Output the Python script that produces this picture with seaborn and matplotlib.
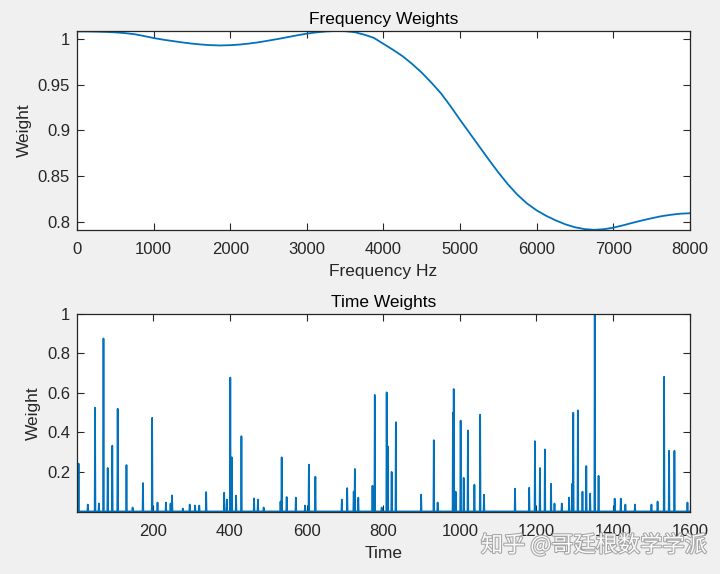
import numpy as np
import pandas as pd
import matplotlib
matplotlib.use("Agg")
import matplotlib.pyplot as plt
import matplotlib.patheffects as pe
import seaborn as sns

# ---- data: frequency weights ----
freq_hz = [0, 125, 250, 375, 500, 625, 750, 875, 1000, 1125, 1250, 1375, 1500,
           1625, 1750, 1875, 2000, 2125, 2250, 2375, 2500, 2625, 2750, 2875,
           3000, 3125, 3250, 3375, 3500, 3625, 3750, 3875, 4000, 4125, 4250,
           4375, 4500, 4625, 4750, 4875, 5000, 5125, 5250, 5375, 5500, 5625,
           5750, 5875, 6000, 6125, 6250, 6375, 6500, 6625, 6750, 6875, 7000,
           7125, 7250, 7375, 7500, 7625, 7750, 7875, 8000]
freq_weight = [1.0080, 1.0080, 1.0078, 1.0075, 1.0070, 1.0062, 1.0050, 1.0030,
               1.0008, 0.9990, 0.9975, 0.9960, 0.9947, 0.9937, 0.9930, 0.9927,
               0.9930, 0.9937, 0.9948, 0.9962, 0.9980, 0.9998, 1.0018, 1.0038,
               1.0056, 1.0070, 1.0080, 1.0085, 1.0083, 1.0072, 1.0045, 1.0010,
               0.9945, 0.9880, 0.9810, 0.9725, 0.9630, 0.9522, 0.9405, 0.9265,
               0.9115, 0.8970, 0.8825, 0.8680, 0.8540, 0.8410, 0.8295, 0.8200,
               0.8125, 0.8065, 0.8015, 0.7972, 0.7940, 0.7920, 0.7912, 0.7918,
               0.7935, 0.7960, 0.7988, 0.8014, 0.8038, 0.8060, 0.8076, 0.8088,
               0.8093]

# ---- data: time weights (spike positions and heights) ----
n_time = 1600
spike_time = [5, 29, 48, 58, 70, 81, 93, 107, 130, 146, 173, 197, 211, 233, 245,
              249, 277, 295, 309, 320, 338, 385, 392, 401, 405, 416, 430, 463,
              473, 488, 532, 535, 548, 572, 596, 606, 623, 692, 706, 723, 726,
              735, 772, 778, 796, 809, 812, 822, 833, 899, 932, 942, 982, 984,
              989, 1002, 1010, 1021, 1038, 1053, 1063, 1144, 1181, 1196, 1209,
              1222, 1238, 1247, 1266, 1285, 1293, 1296, 1308, 1320, 1330, 1340,
              1352, 1362, 1404, 1420, 1432, 1457, 1500, 1516, 1533, 1546, 1560,
              1594]
spike_height = [0.242, 0.035, 0.525, 0.04, 0.876, 0.22, 0.333, 0.52, 0.235, 0.02,
                0.144, 0.474, 0.045, 0.045, 0.04, 0.081, 0.015, 0.035, 0.03, 0.03,
                0.098, 0.095, 0.06, 0.678, 0.274, 0.08, 0.381, 0.066, 0.06, 0.02,
                0.05, 0.274, 0.073, 0.07, 0.03, 0.237, 0.176, 0.06, 0.118, 0.10,
                0.215, 0.07, 0.13, 0.59, 0.02, 0.603, 0.33, 0.20, 0.452, 0.085,
                0.361, 0.045, 0.50, 0.62, 0.10, 0.46, 0.17, 0.41, 0.135, 0.49,
                0.085, 0.115, 0.12, 0.356, 0.22, 0.314, 0.14, 0.04, 0.04, 0.07,
                0.14, 0.50, 0.512, 0.10, 0.23, 0.09, 1.0, 0.18, 0.065, 0.065,
                0.035, 0.035, 0.035, 0.05, 0.682, 0.307, 0.307, 0.045]

freq_ticks = [0, 1000, 2000, 3000, 4000, 5000, 6000, 7000, 8000]
freq_ytick = [0.8, 0.85, 0.9, 0.95, 1.0]
freq_ytick_labels = ["0.8", "0.85", "0.9", "0.95", "1"]
time_ticks = [200, 400, 600, 800, 1000, 1200, 1400, 1600]
time_ytick = [0.2, 0.4, 0.6, 0.8, 1.0]
time_ytick_labels = ["0.2", "0.4", "0.6", "0.8", "1"]

time_idx = np.arange(1, n_time + 1)
time_weight = np.zeros(n_time)
time_weight[np.array(spike_time) - 1] = spike_height

df_freq = pd.DataFrame({"Frequency Hz": freq_hz, "Weight": freq_weight})
df_time = pd.DataFrame({"Time": time_idx, "Weight": time_weight})

# ---- style ----
sns.set_style("white")
plt.rcParams["font.family"] = ["Liberation Sans", "DejaVu Sans"]
plt.rcParams["xtick.direction"] = "in"
plt.rcParams["ytick.direction"] = "in"

line_color = "#0072BD"
text_color = "#262626"

fig = plt.figure(figsize=(7.2, 5.74), dpi=100, facecolor="#f0f0f0")
ax1 = fig.add_axes([0.107, 0.599, 0.851, 0.347])
ax2 = fig.add_axes([0.107, 0.108, 0.851, 0.345])

sns.lineplot(data=df_freq, x="Frequency Hz", y="Weight", ax=ax1,
             color=line_color, linewidth=1.3, estimator=None)
sns.lineplot(data=df_time, x="Time", y="Weight", ax=ax2,
             color=line_color, linewidth=1.25, estimator=None)

ax1.set_xlim(0, 8000)
ax1.set_ylim(0.7908, 1.0085)
ax1.set_xticks(freq_ticks)
ax1.set_xticklabels([str(t) for t in freq_ticks])
ax1.set_yticks(freq_ytick)
ax1.set_yticklabels(freq_ytick_labels)
ax1.set_title("Frequency Weights", fontsize=12.5, color="black", pad=5)
ax1.set_xlabel("Frequency Hz", fontsize=12.5, color=text_color, labelpad=5)
ax1.set_ylabel("Weight", fontsize=12.5, color=text_color, labelpad=4.5)

ax2.set_xlim(1, 1600)
ax2.set_ylim(-0.003, 1.0)
ax2.set_xticks(time_ticks)
ax2.set_xticklabels([str(t) for t in time_ticks])
ax2.set_yticks(time_ytick)
ax2.set_yticklabels(time_ytick_labels)
ax2.set_title("Time Weights", fontsize=12.5, color="black", pad=5)
ax2.set_xlabel("Time", fontsize=12.5, color=text_color, labelpad=5)
ax2.set_ylabel("Weight", fontsize=12.5, color=text_color, labelpad=4.5)

for ax in (ax1, ax2):
    ax.set_facecolor("white")
    ax.tick_params(axis="both", which="both", direction="in", length=5,
                   width=0.8, color=text_color, labelsize=12,
                   labelcolor=text_color, top=True, right=True,
                   bottom=True, left=True, labeltop=False, labelright=False)
    ax.tick_params(axis="x", pad=8.5)
    ax.tick_params(axis="y", pad=5)
    for s in ax.spines.values():
        s.set_visible(True)
        s.set_color(text_color)
        s.set_linewidth(0.9)
    ax.grid(False)

fig.text(0.825, 0.0505, "知乎 @哥廷根数学学派", fontsize=16,
         family=["Noto Sans CJK SC", "DejaVu Sans"], color="white",
         ha="center", va="center", alpha=0.95,
         path_effects=[pe.withStroke(linewidth=1.5, foreground="#a0a0a0")])

fig.savefig("out.png", dpi=100, facecolor=fig.get_facecolor())
